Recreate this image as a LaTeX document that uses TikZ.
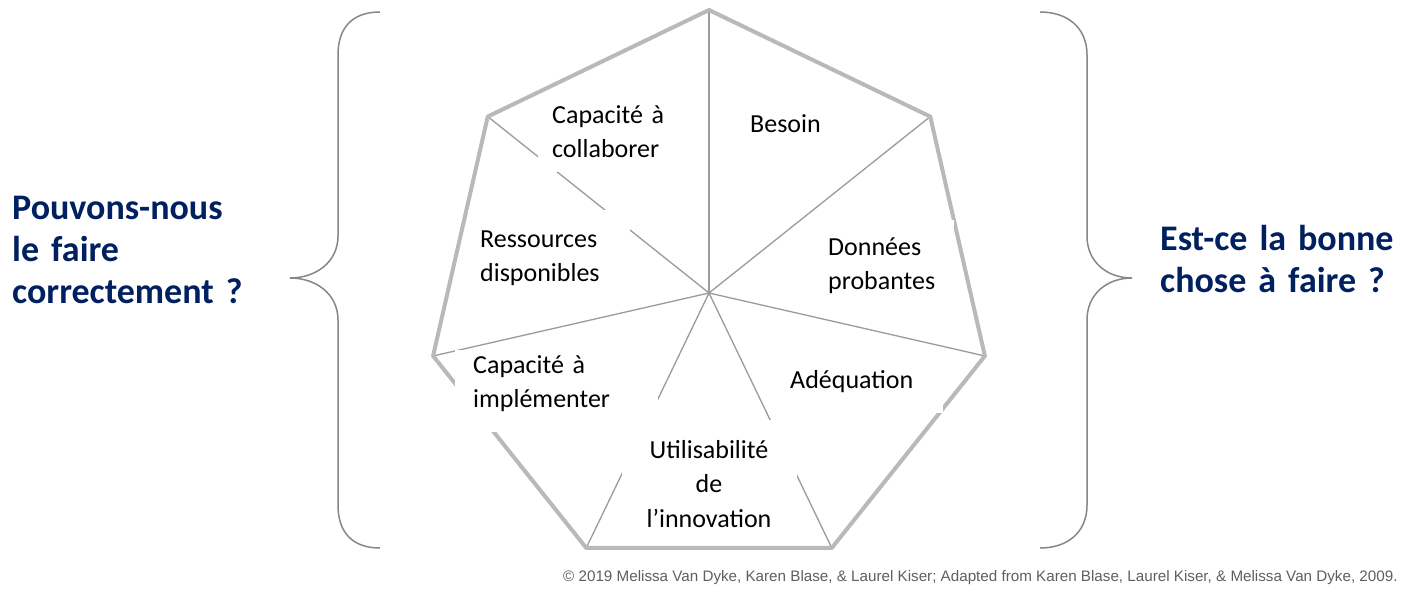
\documentclass[tikz,border=0pt]{standalone}
\usepackage{fontspec}
\setmainfont{Carlito}
\newfontfamily\creditfont{Liberation Sans}
\usetikzlibrary{positioning}
\definecolor{navy}{RGB}{0,32,96}
\definecolor{rimgray}{RGB}{185,185,185}
\definecolor{spokegray}{RGB}{155,155,155}
\definecolor{bracegray}{RGB}{135,135,135}
\definecolor{creditgray}{RGB}{95,95,95}

\begin{document}
\begin{tikzpicture}[
	%Environment config
	x=1pt, y=-1pt,
	%Environment styles
	Rim/.style={draw=rimgray, line width=4pt, line join=round},
	Spoke/.style={draw=spokegray, line width=1.3pt},
	Brace/.style={draw=bracegray, line width=1.5pt},
	Mask/.style={fill=white, inner sep=0pt, anchor=north west},
	Label/.style={font=\fontsize{26}{34.5}\selectfont, text width=200pt, align=left, inner sep=0pt, anchor=base west},
	Question/.style={font=\fontsize{36}{42}\selectfont\bfseries, text=navy, text width=260pt, align=left, inner sep=0pt, anchor=base west}
	]
	\useasboundingbox[fill=white] (0,0) rectangle (1411,594);

	% heptagon corners and hub
	\coordinate (hub) at (709,293);
	\foreach \i in {0,...,6}
		\coordinate (v\i) at ({709+283*cos(90+\i*360/7)},{293-283*sin(90+\i*360/7)});

	\foreach \i in {0,...,6}
		\draw[Spoke] (hub) -- (v\i);
	\draw[Rim] (v0) -- (v1) -- (v2) -- (v3) -- (v4) -- (v5) -- (v6) -- cycle;

	% white boxes behind the labels
	\path
	(538,95) node[Mask, minimum width=162pt, minimum height=77pt](mCollab){}
	(468,210) node[Mask, minimum width=162pt, minimum height=88pt](mRess){}
	(455,350) node[Mask, minimum width=203pt, minimum height=82pt](mImpl){}
	(622,420) node[Mask, minimum width=175pt, minimum height=115pt](mUtil){}
	(820,220) node[Mask, minimum width=134pt, minimum height=80pt](mDonn){}
	(775,352) node[Mask, minimum width=168pt, minimum height=61pt](mAdeq){};

	\path
	(552,123) node[Label](collab){Capacité à\\collaborer}
	(750,132) node[Label](besoin){Besoin}
	(480,247) node[Label](ress){Ressources\\disponibles}
	(828,255) node[Label](donn){Données\\probantes}
	(473,373) node[Label](impl){Capacité à\\implémenter}
	(790,388) node[Label](adeq){Adéquation}
	(709,458) node[Label, text width=180pt, align=center, anchor=base](util){Utilisabilité\\de\\l’innovation};

	% braces and questions
	\draw[Brace] (380,12) .. controls (352,12) and (338,28) .. (338,55) -- (338,236)
		.. controls (338,262) and (316,278) .. (290,278)
		.. controls (316,278) and (338,294) .. (338,320) -- (338,505)
		.. controls (338,532) and (352,548) .. (380,548);
	\draw[Brace] (1040,12) .. controls (1068,12) and (1087,28) .. (1087,55) -- (1087,236)
		.. controls (1087,262) and (1107,278) .. (1132,278)
		.. controls (1107,278) and (1087,294) .. (1087,320) -- (1087,505)
		.. controls (1087,532) and (1068,548) .. (1040,548);

	\path
	(12,219) node[Question](can){Pouvons-nous\\le faire\\correctement ?}
	(1160,250) node[Question](right){Est-ce la bonne\\chose à faire ?}
	(563,581) node[anchor=base west, inner sep=0pt, text=creditgray,
		font=\creditfont\fontsize{15.2}{17}\selectfont](credit)
		{© 2019 Melissa Van Dyke,  Karen Blase, \& Laurel Kiser; Adapted from Karen Blase, Laurel Kiser, \& Melissa Van Dyke, 2009.};
\end{tikzpicture}
\end{document}
